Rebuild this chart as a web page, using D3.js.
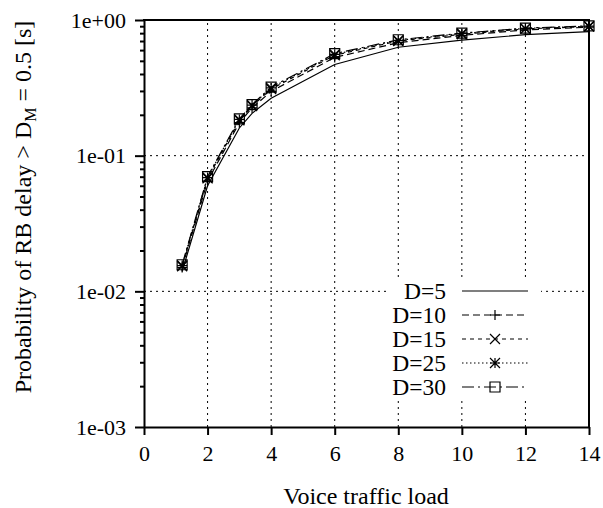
<!DOCTYPE html>
<html>
<head>
<meta charset="utf-8">
<script src="https://cdn.jsdelivr.net/npm/d3@7"></script>
<style>
  html, body { margin: 0; padding: 0; background: #fff; }
</style>
</head>
<body>
<svg id="chart" width="603" height="508"></svg>
<script>
// Voice traffic load values (x positions of the samples)
const loads = [1.2, 2, 3, 3.4, 4, 6, 8, 10, 12, 14];

// Probability of RB delay exceeding D_M for each D setting
const d5  = [0.0140, 0.060, 0.160, 0.205, 0.265, 0.470, 0.630, 0.710, 0.780, 0.820];
const d10 = [0.0150, 0.065, 0.175, 0.225, 0.298, 0.530, 0.680, 0.770, 0.845, 0.885];
const d15 = [0.0153, 0.068, 0.182, 0.232, 0.310, 0.550, 0.700, 0.785, 0.860, 0.895];
const d25 = [0.0155, 0.069, 0.185, 0.236, 0.316, 0.558, 0.708, 0.795, 0.868, 0.900];
const d30 = [0.0157, 0.070, 0.187, 0.238, 0.320, 0.565, 0.715, 0.800, 0.872, 0.905];

const seriesNames = ["D=5", "D=10", "D=15", "D=25", "D=30"];
const xTicks = [0, 2, 4, 6, 8, 10, 12, 14];
const yTicks = [1e-3, 1e-2, 1e-1, 1];
const yTickLabels = ["1e-03", "1e-02", "1e-01", "1e+00"];

const styles = [
  { dash: null,        marker: null },
  { dash: "7,4",       marker: "plus" },
  { dash: "4,4",       marker: "cross" },
  { dash: "1.5,2.5",   marker: "star" },
  { dash: "12,4,2,4",  marker: "box" }
];
const seriesValues = [d5, d10, d15, d25, d30];

const FONT = "'Liberation Serif', 'Times New Roman', serif";
const svg = d3.select("#chart");
const m = { left: 144, right: 589, top: 20, bottom: 427 };

const x = d3.scaleLinear().domain([0, 14]).range([m.left, m.right]);
const y = d3.scaleLog().domain([1e-3, 1]).range([m.bottom, m.top]);

// grid
const grid = svg.append("g").attr("stroke", "#000").attr("stroke-width", 1)
  .attr("stroke-dasharray", "2,4");
xTicks.slice(1, -1).forEach(t => {
  grid.append("line").attr("x1", x(t)).attr("x2", x(t))
    .attr("y1", m.bottom).attr("y2", m.top);
});
yTicks.slice(1, -1).forEach(t => {
  grid.append("line").attr("y1", y(t)).attr("y2", y(t))
    .attr("x1", m.left).attr("x2", m.right);
});

// axes
const xAxis = d3.axisBottom(x).tickValues(xTicks).tickSize(8).tickSizeOuter(0).tickPadding(10);
const gx = svg.append("g").attr("transform", `translate(0,${m.bottom})`).call(xAxis);
gx.select(".domain").attr("stroke-width", 2);
gx.selectAll(".tick line").attr("stroke-width", 2);
gx.selectAll(".tick text").attr("font-size", 22).style("font-family", FONT);

const minor = [];
for (let e = -3; e < 0; e++) for (let k = 2; k <= 9; k++) minor.push(k * Math.pow(10, e));
const gyMinor = svg.append("g").attr("transform", `translate(${m.left},0)`)
  .call(d3.axisLeft(y).tickValues(minor).tickSize(4).tickFormat(""));
gyMinor.select(".domain").remove();
gyMinor.selectAll(".tick line").attr("stroke-width", 2);

const yAxis = d3.axisLeft(y).tickValues(yTicks).tickSize(9).tickSizeOuter(0).tickPadding(9)
  .tickFormat((d, i) => yTickLabels[i]);
const gy = svg.append("g").attr("transform", `translate(${m.left},0)`).call(yAxis);
gy.select(".domain").attr("stroke-width", 2);
gy.selectAll(".tick line").attr("stroke-width", 2);
gy.selectAll(".tick text").attr("font-size", 22).style("font-family", FONT);

// frame top and right
svg.append("line").attr("x1", m.left - 1).attr("x2", m.right + 1).attr("y1", m.top).attr("y2", m.top)
  .attr("stroke", "#000").attr("stroke-width", 2);
svg.append("line").attr("x1", m.right).attr("x2", m.right).attr("y1", m.top).attr("y2", m.bottom)
  .attr("stroke", "#000").attr("stroke-width", 2);

// marker shapes
function drawMarker(g, type, cx, cy) {
  const s = 5;
  const p = g.append("path").attr("fill", "none").attr("stroke", "#000").attr("stroke-width", 1.2);
  if (type === "plus") p.attr("d", `M${cx - s},${cy}H${cx + s}M${cx},${cy - s}V${cy + s}`);
  else if (type === "cross") p.attr("d", `M${cx - s},${cy - s}L${cx + s},${cy + s}M${cx - s},${cy + s}L${cx + s},${cy - s}`);
  else if (type === "star") p.attr("d", `M${cx - s},${cy}H${cx + s}M${cx},${cy - s}V${cy + s}M${cx - s},${cy - s}L${cx + s},${cy + s}M${cx - s},${cy + s}L${cx + s},${cy - s}`);
  else if (type === "box") p.attr("d", `M${cx - s},${cy - s}H${cx + s}V${cy + s}H${cx - s}Z`);
}

// data lines
const line = d3.line().x((d, i) => x(loads[i])).y(d => y(d));
seriesValues.forEach((vals, si) => {
  const g = svg.append("g");
  g.append("path").datum(vals).attr("d", line)
    .attr("fill", "none").attr("stroke", "#000").attr("stroke-width", 1.2)
    .attr("stroke-dasharray", styles[si].dash);
  if (styles[si].marker) {
    vals.forEach((v, i) => drawMarker(g, styles[si].marker, x(loads[i]), y(v)));
  }
});

// legend
const lg = svg.append("g");
lg.append("rect").attr("x", 388).attr("y", 280).attr("width", 153).attr("height", 117).attr("fill", "#fff");
seriesNames.forEach((name, i) => {
  const ly = 291 + i * 24;
  lg.append("text").attr("x", 446).attr("y", ly + 8).attr("text-anchor", "end")
    .attr("font-size", 23.5).style("font-family", FONT).text(name);
  lg.append("line").attr("x1", 462).attr("x2", 528).attr("y1", ly).attr("y2", ly)
    .attr("stroke", "#000").attr("stroke-width", 1.2).attr("stroke-dasharray", styles[i].dash);
  if (styles[i].marker) drawMarker(lg, styles[i].marker, 495, ly);
});

// axis titles
svg.append("text").attr("x", 366).attr("y", 504).attr("text-anchor", "middle")
  .attr("font-size", 24).style("font-family", FONT).text("Voice traffic load");

const yt = svg.append("text").attr("transform", "translate(31,207) rotate(-90)")
  .attr("text-anchor", "middle").attr("font-size", 24).style("font-family", FONT);
yt.append("tspan").text("Probability of RB delay > D");
yt.append("tspan").attr("font-size", 16).attr("dy", 5).text("M");
yt.append("tspan").attr("dy", -5).text(" = 0.5 [s]");
</script>
</body>
</html>
